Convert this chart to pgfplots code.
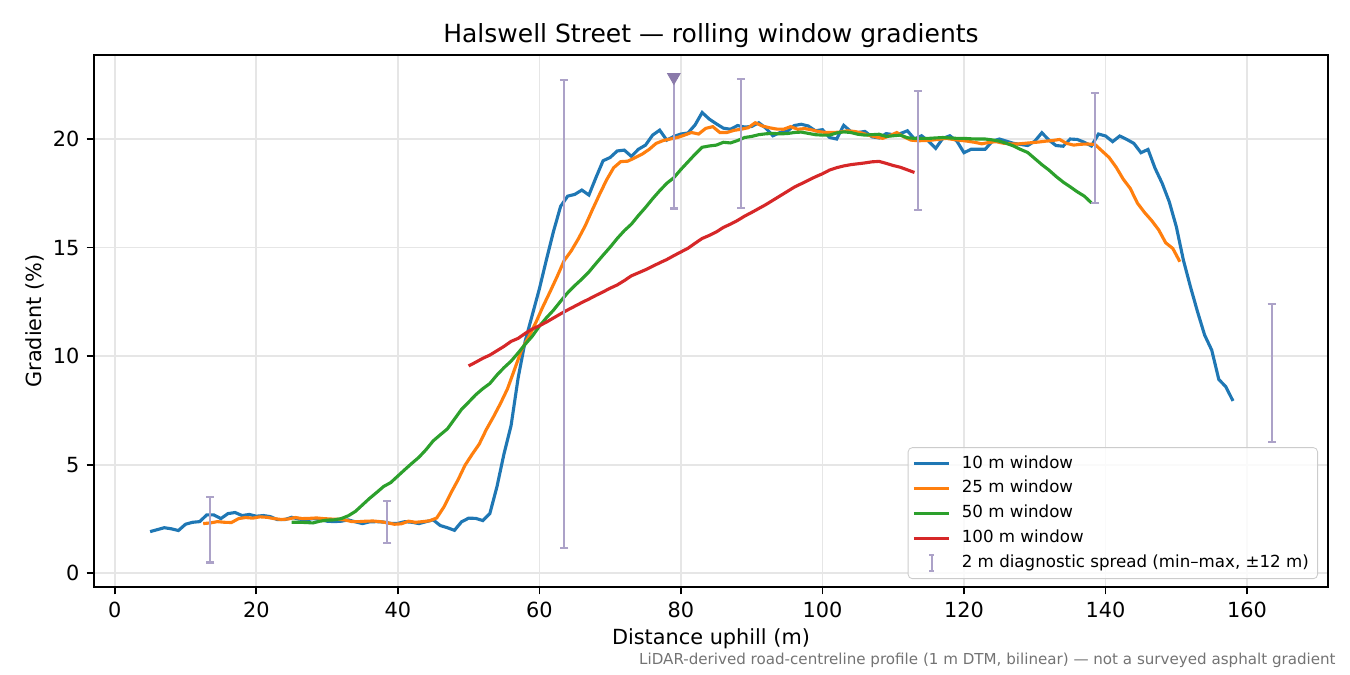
\documentclass[border=0pt]{standalone}
\usepackage{pgfplots}
\pgfplotsset{compat=1.18}
\usepackage{fontspec}
\setmainfont{DejaVu Sans}

\definecolor{c10}{HTML}{1F77B4}
\definecolor{c25}{HTML}{FF7F0E}
\definecolor{c50}{HTML}{2CA02C}
\definecolor{c100}{HTML}{D62728}
\definecolor{errcol}{HTML}{ACA2C8}
\definecolor{tricol}{HTML}{8A7AAA}
\definecolor{gridcol}{HTML}{E6E6E6}

\begin{document}
\begin{tikzpicture}
\begin{axis}[
    at={(0,0)}, anchor=south west,
    scale only axis,
    width=592.32pt, height=255.36pt,
    xmin=-2.93, xmax=171.43,
    ymin=-0.63, ymax=23.87,
    xtick={0,20,...,160},
    ytick={0,5,10,15,20},
    tick pos=left,
    tick align=outside,
    major tick length=3.5pt,
    every tick/.style={black, line width=0.8pt},
    axis line style={black, line width=0.8pt},
    grid=major,
    major grid style={gridcol, line width=0.8pt},
    /pgf/number format/assume math mode=true,
    tick label style={font=\fontsize{10}{12}\selectfont},
    title={Halswell Street — rolling window gradients},
    title style={at={(axis description cs:0.5,1)}, anchor=base, font=\fontsize{12}{14}\selectfont},
    xlabel={Distance uphill (m)},
    ylabel={Gradient (\%)},
    xlabel style={at={(axis description cs:0.5,-0.1089)}, anchor=base, font=\fontsize{10}{12}\selectfont},
    ylabel style={at={(axis description cs:-0.0429,0.5)}, anchor=base, font=\fontsize{10}{12}\selectfont},
    legend cell align=left,
    legend style={at={(1,0)}, anchor=south east, xshift=-4.8pt, yshift=3.8pt,
        draw=black!20, fill=white, fill opacity=0.8, text opacity=1,
        rounded corners=2pt, font=\fontsize{8}{9.6}\selectfont,
        row sep=0pt, inner xsep=2pt, inner ysep=1.5pt,
        nodes={inner sep=2.2pt},
        /tikz/every odd column/.append style={column sep=3pt}},
]

% 10 m window
\addplot[c10, line width=1.5pt] coordinates {
(5,1.92) (6,2.01) (7,2.10) (8,2.05) (9,1.97) (10,2.26) (11,2.35) (12,2.38)
(13,2.69) (14,2.69) (15,2.52) (16,2.75) (17,2.80) (18,2.66) (19,2.71) (20,2.63)
(21,2.66) (22,2.61) (23,2.47) (24,2.47) (25,2.58) (26,2.50) (27,2.46) (28,2.52)
(29,2.48) (30,2.40) (31,2.38) (32,2.40) (33,2.46) (34,2.37) (35,2.29) (36,2.37)
(37,2.38) (38,2.36) (39,2.30) (40,2.30) (41,2.38) (42,2.35) (43,2.29) (44,2.38)
(45,2.46) (46,2.20) (47,2.10) (48,1.98) (49,2.37) (50,2.54) (51,2.53) (52,2.43)
(53,2.75) (54,3.98) (55,5.50) (56,6.80) (57,9.00) (58,10.70) (59,11.90) (60,13.10)
(61,14.45) (62,15.75) (63,16.90) (64,17.37) (65,17.45) (66,17.65) (67,17.42) (68,18.23)
(69,19.00) (70,19.15) (71,19.45) (72,19.49) (73,19.20) (74,19.53) (75,19.72) (76,20.18)
(77,20.41) (78,19.95) (79,20.12) (80,20.23) (81,20.28) (82,20.65) (83,21.22) (84,20.92)
(85,20.70) (86,20.50) (87,20.45) (88,20.62) (89,20.55) (90,20.58) (91,20.75) (92,20.50)
(93,20.15) (94,20.30) (95,20.35) (96,20.62) (97,20.68) (98,20.60) (99,20.38) (100,20.43)
(101,20.07) (102,20.00) (103,20.63) (104,20.35) (105,20.30) (106,20.35) (107,20.10) (108,20.05)
(109,20.25) (110,20.20) (111,20.25) (112,20.38) (113,20.00) (114,20.15) (115,19.90) (116,19.57)
(117,20.03) (118,20.15) (119,19.90) (120,19.37) (121,19.53) (122,19.53) (123,19.53) (124,19.90)
(125,20.00) (126,19.90) (127,19.80) (128,19.75) (129,19.70) (130,19.90) (131,20.29) (132,19.95)
(133,19.70) (134,19.67) (135,20.00) (136,19.98) (137,19.85) (138,19.68) (139,20.23) (140,20.14)
(141,19.88) (142,20.14) (143,19.98) (144,19.80) (145,19.37) (146,19.52) (147,18.65) (148,17.96)
(149,17.11) (150,15.96) (151,14.42) (152,13.19) (153,12.04) (154,10.97) (155,10.28) (156,8.93)
(157,8.59) (158,7.94)
};
\addlegendentry{10 m window}

% 25 m window
\addplot[c25, line width=1.5pt] coordinates {
(12.5,2.29) (13.5,2.32) (14.5,2.38) (15.5,2.35) (16.5,2.34) (17.5,2.52) (18.5,2.57) (19.5,2.54)
(20.5,2.60) (21.5,2.58) (22.5,2.52) (23.5,2.48) (24.5,2.50) (25.5,2.57) (26.5,2.52) (27.5,2.53)
(28.5,2.55) (29.5,2.52) (30.5,2.50) (31.5,2.49) (32.5,2.46) (33.5,2.38) (34.5,2.38) (35.5,2.40)
(36.5,2.41) (37.5,2.38) (38.5,2.33) (39.5,2.26) (40.5,2.28) (41.5,2.40) (42.5,2.35) (43.5,2.38)
(44.5,2.42) (45.5,2.55) (46.5,3.05) (47.5,3.70) (48.5,4.30) (49.5,4.98) (50.5,5.48) (51.5,5.95)
(52.5,6.62) (53.5,7.20) (54.5,7.82) (55.5,8.50) (56.5,9.40) (57.5,10.30) (58.5,10.89) (59.5,11.55)
(60.5,12.28) (61.5,12.96) (62.5,13.66) (63.5,14.40) (64.5,14.85) (65.5,15.40) (66.5,16.02) (67.5,16.75)
(68.5,17.45) (69.5,18.12) (70.5,18.68) (71.5,18.96) (72.5,18.98) (73.5,19.14) (74.5,19.30) (75.5,19.52)
(76.5,19.80) (77.5,19.93) (78.5,20.00) (79.5,20.07) (80.5,20.18) (81.5,20.30) (82.5,20.23) (83.5,20.49)
(84.5,20.57) (85.5,20.30) (86.5,20.30) (87.5,20.40) (88.5,20.45) (89.5,20.52) (90.5,20.75) (91.5,20.60)
(92.5,20.52) (93.5,20.46) (94.5,20.45) (95.5,20.57) (96.5,20.45) (97.5,20.48) (98.5,20.42) (99.5,20.34)
(100.5,20.30) (101.5,20.30) (102.5,20.32) (103.5,20.38) (104.5,20.35) (105.5,20.28) (106.5,20.18) (107.5,20.10)
(108.5,20.03) (109.5,20.15) (110.5,20.30) (111.5,20.10) (112.5,19.95) (113.5,19.92) (114.5,19.93) (115.5,19.95)
(116.5,19.99) (117.5,20.03) (118.5,19.98) (119.5,19.94) (120.5,19.90) (121.5,19.85) (122.5,19.78) (123.5,19.84)
(124.5,19.88) (125.5,19.81) (126.5,19.78) (127.5,19.77) (128.5,19.80) (129.5,19.83) (130.5,19.86) (131.5,19.90)
(132.5,19.93) (133.5,19.98) (134.5,19.80) (135.5,19.72) (136.5,19.76) (137.5,19.77) (138.5,19.75) (139.5,19.45)
(140.5,19.15) (141.5,18.70) (142.5,18.15) (143.5,17.72) (144.5,17.05) (145.5,16.62) (146.5,16.25) (147.5,15.82)
(148.5,15.22) (149.5,14.96) (150.5,14.35)
};
\addlegendentry{25 m window}

% 50 m window
\addplot[c50, line width=1.5pt] coordinates {
(25,2.35) (26,2.35) (27,2.34) (28,2.32) (29,2.40) (30,2.45) (31,2.46) (32,2.52)
(33,2.65) (34,2.85) (35,3.15) (36,3.45) (37,3.72) (38,4.00) (39,4.18) (40,4.48)
(41,4.78) (42,5.07) (43,5.35) (44,5.70) (45,6.10) (46,6.38) (47,6.65) (48,7.10)
(49,7.55) (50,7.88) (51,8.22) (52,8.50) (53,8.74) (54,9.13) (55,9.47) (56,9.77)
(57,10.15) (58,10.55) (59,10.92) (60,11.38) (61,11.77) (62,12.12) (63,12.53) (64,12.92)
(65,13.25) (66,13.55) (67,13.88) (68,14.27) (69,14.65) (70,15.02) (71,15.42) (72,15.78)
(73,16.08) (74,16.48) (75,16.85) (76,17.25) (77,17.62) (78,17.96) (79,18.22) (80,18.60)
(81,18.95) (82,19.30) (83,19.62) (84,19.68) (85,19.72) (86,19.85) (87,19.82) (88,19.93)
(89,20.07) (90,20.12) (91,20.20) (92,20.24) (93,20.26) (94,20.24) (95,20.25) (96,20.30)
(97,20.32) (98,20.26) (99,20.20) (100,20.18) (101,20.18) (102,20.28) (103,20.33) (104,20.30)
(105,20.22) (106,20.18) (107,20.20) (108,20.22) (109,20.12) (110,20.15) (111,20.18) (112,20.06)
(113,20.03) (114,20.03) (115,20.03) (116,20.05) (117,20.07) (118,20.05) (119,20.03) (120,20.03)
(121,20.01) (122,20.00) (123,20.00) (124,19.96) (125,19.90) (126,19.80) (127,19.68) (128,19.52)
(129,19.38) (130,19.10) (131,18.82) (132,18.57) (133,18.28) (134,18.02) (135,17.80) (136,17.57)
(137,17.37) (138,17.06)
};
\addlegendentry{50 m window}

% 100 m window
\addplot[c100, line width=1.5pt] coordinates {
(50,9.55) (51,9.72) (52,9.90) (53,10.05) (54,10.25) (55,10.45) (56,10.68) (57,10.82)
(58,11.05) (59,11.25) (60,11.40) (61,11.57) (62,11.76) (63,11.95) (64,12.13) (65,12.30)
(66,12.47) (67,12.63) (68,12.80) (69,12.96) (70,13.13) (71,13.28) (72,13.48) (73,13.70)
(74,13.84) (75,13.98) (76,14.14) (77,14.30) (78,14.45) (79,14.63) (80,14.80) (81,14.97)
(82,15.20) (83,15.42) (84,15.56) (85,15.72) (86,15.93) (87,16.08) (88,16.25) (89,16.45)
(90,16.62) (91,16.80) (92,16.98) (93,17.18) (94,17.38) (95,17.58) (96,17.78) (97,17.94)
(98,18.10) (99,18.26) (100,18.40) (101,18.57) (102,18.68) (103,18.76) (104,18.82) (105,18.86)
(106,18.90) (107,18.95) (108,18.97) (109,18.88) (110,18.78) (111,18.70) (112,18.58) (113,18.46)
};
\addlegendentry{100 m window}

% 2 m diagnostic spread: centre, plus, minus
\addplot[draw=none, mark=none,
    legend image code/.code={
        \draw[errcol, line width=1pt] (0.3cm,-0.14cm) -- (0.3cm,0.14cm);
        \draw[errcol, line width=1pt] (0.26cm,-0.14cm) -- (0.34cm,-0.14cm);
        \draw[errcol, line width=1pt] (0.26cm,0.14cm) -- (0.34cm,0.14cm);
    },
    error bars/.cd, y dir=both, y explicit,
    error bar style={draw=errcol, line width=1pt},
    error mark options={rotate=90, draw=errcol, mark size=2pt, line width=1pt},
] coordinates {
(13.5,2.0) += (0,1.5) -= (0,1.5)
(38.5,2.365) += (0,0.985) -= (0,0.985)
(63.5,11.935) += (0,10.785) -= (0,10.785)
(79,19.8) += (0,3.0) -= (0,3.0)
(88.5,19.79) += (0,2.96) -= (0,2.96)
(113.5,19.475) += (0,2.725) -= (0,2.725)
(138.5,19.575) += (0,2.525) -= (0,2.525)
(163.5,9.225) += (0,3.175) -= (0,3.175)
};
\addlegendentry{2 m diagnostic spread (min–max, ±12 m)}

% peak marker
\addplot[forget plot, only marks, mark=triangle*, mark size=3.5pt,
    mark options={rotate=180, fill=tricol, draw=tricol}] coordinates {(79,22.85)};
\end{axis}
\node[anchor=base east, inner sep=0pt, font=\fontsize{7.25}{8}\selectfont, text=black!55]
    at (596.16pt,-37.4pt)
    {LiDAR-derived road-centreline profile (1 m DTM, bilinear) — not a surveyed asphalt gradient};
\path[use as bounding box] (-45.12pt,-42.24pt) rectangle (602.88pt,281.76pt);
\end{tikzpicture}
\end{document}
